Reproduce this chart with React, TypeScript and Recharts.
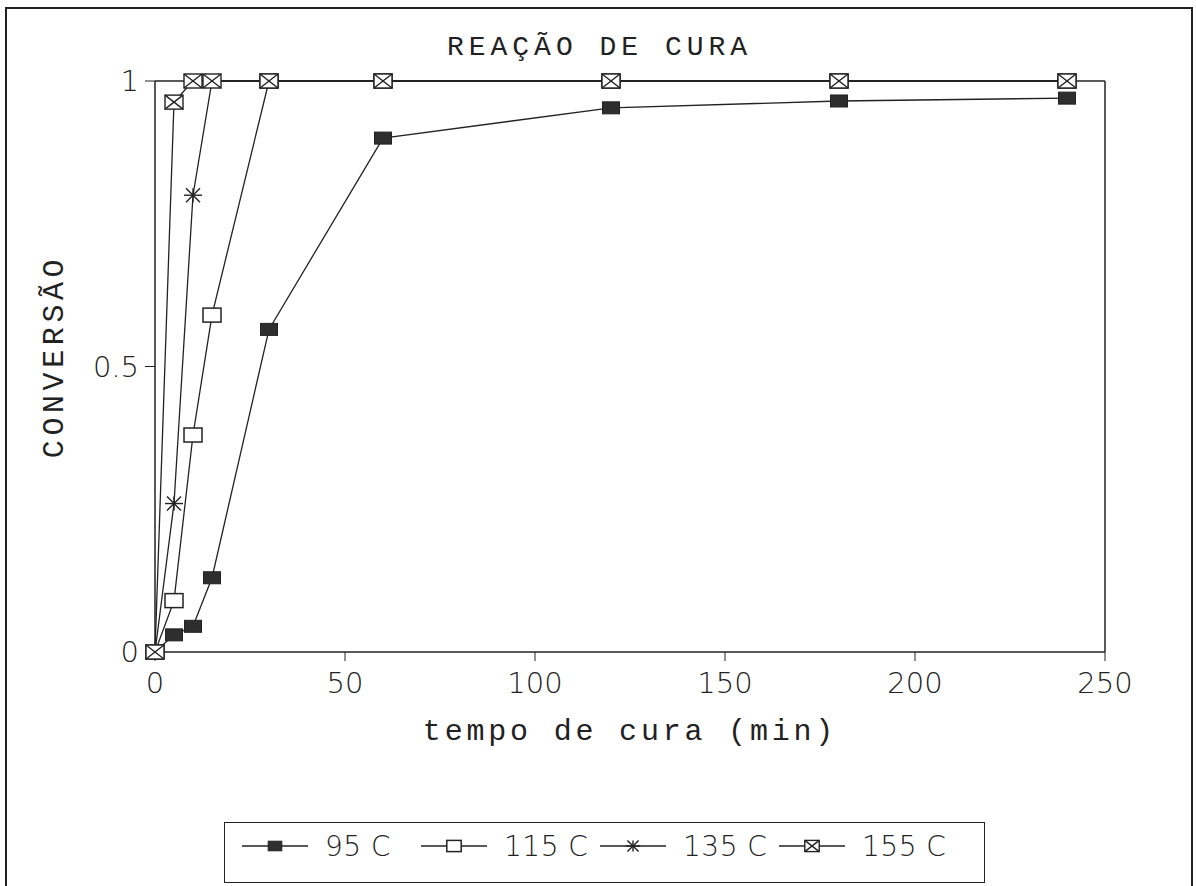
import React from 'react';
import { LineChart, Line, XAxis, YAxis, ReferenceLine, Legend } from 'recharts';

const times = [0, 5, 10, 15, 30, 60, 120, 180, 240];
const c95 = [0, 0.03, 0.045, 0.13, 0.565, 0.9, 0.953, 0.965, 0.97];
const c115 = [0, 0.09, 0.38, 0.59, 1.0, 1.0, 1.0, 1.0, 1.0];
const c135 = [0, 0.26, 0.8, 1.0, 1.0, 1.0, 1.0, 1.0, 1.0];
const c155 = [0, 0.963, 1.0, 1.0, 1.0, 1.0, 1.0, 1.0, 1.0];
const xTicks = [0, 50, 100, 150, 200, 250];
const yTicks = [0, 0.5, 1];
const seriesNames = ['95 C', '115 C', '135 C', '155 C'];
const titleText = 'REAÇÃO DE CURA';
const xLabel = 'tempo de cura (min)';
const yLabel = 'CONVERSÃO';

const data = times.map((t, i) => ({ t, c95: c95[i], c115: c115[i], c135: c135[i], c155: c155[i] }));

const INK = '#222';
const MONO = '"Liberation Mono", "DejaVu Sans Mono", monospace';
const TICKF = '"DejaVu Sans", sans-serif';

type MarkerKind = 'filled' | 'hollow' | 'star' | 'cross';
const kinds: MarkerKind[] = ['filled', 'hollow', 'star', 'cross'];
const keys = ['c95', 'c115', 'c135', 'c155'];

function Marker({ kind, cx, cy, s = 1 }: { kind: MarkerKind; cx: number; cy: number; s?: number }) {
  if (kind === 'filled') {
    const w = 17 * s, h = 12 * s;
    return <rect x={cx - w / 2} y={cy - h / 2} width={w} height={h} fill="#2e2e2e" stroke={INK} strokeWidth={1} />;
  }
  if (kind === 'hollow') {
    const w = 18 * s, h = 14 * s;
    return <rect x={cx - w / 2} y={cy - h / 2} width={w} height={h} fill="#fff" stroke={INK} strokeWidth={1.5} />;
  }
  if (kind === 'star') {
    const a = 9 * s, b = 7 * s;
    return (
      <g stroke={INK} strokeWidth={1.4}>
        <line x1={cx - a} y1={cy} x2={cx + a} y2={cy} />
        <line x1={cx - b} y1={cy - b} x2={cx + b} y2={cy + b} />
        <line x1={cx - b} y1={cy + b} x2={cx + b} y2={cy - b} />
        <line x1={cx} y1={cy - b} x2={cx} y2={cy + b} />
      </g>
    );
  }
  const w = 9 * s, h = 7 * s;
  return (
    <g stroke={INK} strokeWidth={1.4}>
      <rect x={cx - w} y={cy - h} width={2 * w} height={2 * h} fill="#fff" />
      <line x1={cx - w} y1={cy - h} x2={cx + w} y2={cy + h} />
      <line x1={cx - w} y1={cy + h} x2={cx + w} y2={cy - h} />
    </g>
  );
}

const makeDot = (kind: MarkerKind) => (props: any) => {
  const { cx, cy, index } = props;
  if (cx == null || cy == null) return <g key={`d-${kind}-${index}`} />;
  return (
    <g key={`d-${kind}-${index}`}>
      <Marker kind={kind} cx={cx} cy={cy} />
    </g>
  );
};

function LegendContent() {
  return (
    <div
      style={{
        position: 'relative',
        width: 761,
        height: 61,
        border: `1.5px solid ${INK}`,
        boxSizing: 'border-box',
        background: '#fff',
      }}
    >
      {seriesNames.map((name, i) => (
        <div key={name} style={{ position: 'absolute', left: 17 + i * 179, top: 12, height: 24, display: 'flex', alignItems: 'center' }}>
          <svg width={66} height={24} style={{ display: 'block' }}>
            <line x1={0} y1={11} x2={66} y2={11} stroke={INK} strokeWidth={1.3} />
            <Marker kind={kinds[i]} cx={33} cy={11} s={0.8} />
          </svg>
          <span
            style={{
              fontFamily: TICKF,
              fontWeight: 200,
              fontSize: 28,
              color: INK,
              marginLeft: 17,
              lineHeight: '24px',
              whiteSpace: 'nowrap',
              letterSpacing: 0.5,
            }}
          >
            {name}
          </span>
        </div>
      ))}
    </div>
  );
}

const renderYLabel = (props: any) => {
  const vb = props.viewBox || {};
  const cy = (vb.y ?? 81) + (vb.height ?? 571) / 2 - 10;
  return (
    <text
      transform={`translate(63, ${cy}) rotate(-90)`}
      x={0}
      y={0}
      textAnchor="middle"
      fontFamily={MONO}
      fontSize={30}
      letterSpacing={4.6}
      fill={INK}
    >
      {yLabel}
    </text>
  );
};

export default function App() {
  return (
    <div style={{ position: 'absolute', left: 0, top: 0, width: 1196, height: 886, overflow: 'hidden', background: '#fff' }}>
      <div
        style={{
          position: 'absolute',
          left: 5,
          top: 7,
          width: 1188,
          height: 900,
          border: `2px solid ${INK}`,
          boxSizing: 'border-box',
        }}
      />
      <div
        style={{
          position: 'absolute',
          left: 0,
          top: 31,
          width: 1196,
          textAlign: 'center',
          fontFamily: MONO,
          fontSize: 28,
          letterSpacing: 5,
          color: INK,
          lineHeight: '34px',
          paddingLeft: 3,
          boxSizing: 'border-box',
        }}
      >
        {titleText}
      </div>
      <div style={{ position: 'absolute', left: 0, top: 0 }}>
        <LineChart width={1196} height={886} data={data} margin={{ top: 81, right: 91, bottom: 174, left: 95 }}>
          <XAxis
            dataKey="t"
            type="number"
            domain={[0, 250]}
            ticks={xTicks}
            height={60}
            tickSize={9}
            tickLine={{ stroke: INK }}
            axisLine={{ stroke: INK, strokeWidth: 1.5 }}
            tick={{ fontFamily: TICKF, fontWeight: 200, fontSize: 29, fill: INK }}
            tickMargin={11}
            label={{ value: xLabel, position: 'insideBottom', offset: -28, fontFamily: MONO, fontSize: 30, letterSpacing: 3.8, fill: INK }}
          />
          <YAxis
            type="number"
            domain={[0, 1]}
            ticks={yTicks}
            width={60}
            tickSize={10}
            tickLine={{ stroke: INK }}
            axisLine={{ stroke: INK, strokeWidth: 1.5 }}
            tick={{ fontFamily: TICKF, fontWeight: 200, fontSize: 29, fill: INK }}
            tickMargin={6}
            tickFormatter={(v: number) => String(v)}
            label={renderYLabel}
          />
          <ReferenceLine y={1} stroke={INK} strokeWidth={1.5} />
          <ReferenceLine x={250} stroke={INK} strokeWidth={1.5} />
          {keys.map((k, i) => (
            <Line
              key={k}
              dataKey={k}
              name={seriesNames[i]}
              stroke={INK}
              strokeWidth={1.3}
              isAnimationActive={false}
              dot={makeDot(kinds[i])}
              activeDot={false}
              type="linear"
            />
          ))}
          <Legend
            layout="horizontal"
            verticalAlign="middle"
            align="center"
            content={() => <LegendContent />}
            wrapperStyle={{ left: 224, top: 822, width: 761, height: 61 }}
          />
        </LineChart>
      </div>
    </div>
  );
}
